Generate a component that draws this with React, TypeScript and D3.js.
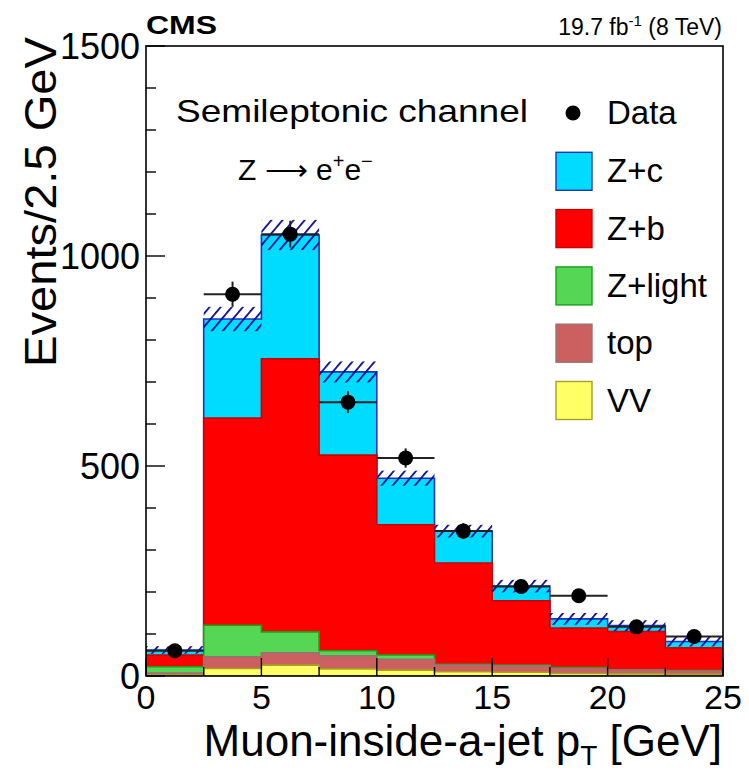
import React from "react";
import * as d3 from "d3";

// ---- data ----
const binEdges = [0, 2.5, 5, 7.5, 10, 12.5, 15, 17.5, 20, 22.5, 25];
const vv = [2, 18, 26, 17, 14, 10, 9, 6, 5, 4];
const top = [5, 28, 29, 31, 26, 16, 15, 12, 9, 8];
const zlight = [15, 75, 50, 12, 10, 2, 2, 2, 1, 1];
const zb = [28, 493, 650, 466, 310, 241, 153, 94, 91, 54];
const zc = [12, 236, 295, 198, 111, 76, 35, 22, 14, 15];
const mcUnc = [9, 29, 36, 25, 18, 15, 15, 14, 13, 12];
const dataVals = [60, 909, 1052, 652, 519, 345, 213, 191, 117, 94];
const dataErr = [8, 30, 32, 26, 23, 19, 15, 14, 11, 10];
const yTicks = [0, 500, 1000, 1500];
const xTicks = [0, 5, 10, 15, 20, 25];

const layerKeys = ["vv", "top", "zlight", "zb", "zc"];
const layerNames: Record<string, string> = {
  zc: "Z+c",
  zb: "Z+b",
  zlight: "Z+light",
  top: "top",
  vv: "VV",
};
const fills: Record<string, string> = {
  zc: "#00dcff",
  zb: "#ff0000",
  zlight: "#55d655",
  top: "#cc6060",
  vv: "#ffff66",
};
const strokes: Record<string, string> = {
  zc: "#2233bb",
  zb: "#cc0000",
  zlight: "#18a018",
  top: "#9a7070",
  vv: "#a8a020",
};

const FONT = "'Liberation Sans', Arial, Helvetica, sans-serif";

export default function App() {
  const W = 749;
  const H = 773;
  const x = d3.scaleLinear().domain([0, 25]).range([146, 723]);
  const y = d3.scaleLinear().domain([0, 1500]).range([676, 46]);

  const table = binEdges.slice(0, -1).map((e, i) => ({
    lo: e,
    hi: binEdges[i + 1],
    vv: vv[i],
    top: top[i],
    zlight: zlight[i],
    zb: zb[i],
    zc: zc[i],
  }));
  const stacked = d3.stack<any>().keys(layerKeys)(table);

  const line = d3.line<[number, number]>();
  const stepPath = (cum: number[]) => {
    const pts: [number, number][] = [[x(binEdges[0]), y(0)]];
    cum.forEach((c, i) => {
      pts.push([x(binEdges[i]), y(c)]);
      pts.push([x(binEdges[i + 1]), y(c)]);
    });
    pts.push([x(binEdges[binEdges.length - 1]), y(0)]);
    return line(pts) + "Z";
  };

  const layersTopDown = [...stacked].reverse();
  const totals = stacked[stacked.length - 1].map((d) => d[1]);

  const yMinor = d3.range(0, 1501, 100);
  const xMinor = d3.range(0, 25.01, 2.5);

  const legendY0 = 113;
  const legendStep = 57.3;
  const legendOrder = ["zc", "zb", "zlight", "top", "vv"];

  return (
    <svg
      width={W}
      height={H}
      style={{ position: "absolute", left: 0, top: 0, background: "#fff" }}
      fontFamily={FONT}
    >
      <defs>
        <pattern
          id="hatch"
          patternUnits="userSpaceOnUse"
          width={8.5}
          height={8.5}
          patternTransform="rotate(40)"
        >
          <line x1={0} y1={0} x2={0} y2={8.5} stroke="#0c0c96" strokeWidth={3.6} />
        </pattern>
        <clipPath id="plotclip">
          <rect x={146} y={46} width={577} height={630} />
        </clipPath>
      </defs>
      <rect x={0} y={0} width={W} height={H} fill="#fff" />

      <g clipPath="url(#plotclip)">
        {layersTopDown.map((layer) => (
          <path
            key={layer.key}
            d={stepPath(layer.map((d) => d[1]))}
            fill={fills[layer.key]}
            stroke={strokes[layer.key]}
            strokeWidth={1.6}
          />
        ))}
        {totals.map((t, i) => (
          <rect
            key={"h" + i}
            x={x(binEdges[i])}
            y={y(t + mcUnc[i])}
            width={x(binEdges[i + 1]) - x(binEdges[i])}
            height={y(t - mcUnc[i]) - y(t + mcUnc[i])}
            fill="url(#hatch)"
          />
        ))}
        {dataVals.map((v, i) => {
          const cx = x((binEdges[i] + binEdges[i + 1]) / 2);
          return (
            <g key={"d" + i}>
              <line
                x1={x(binEdges[i])}
                x2={x(binEdges[i + 1])}
                y1={y(v)}
                y2={y(v)}
                stroke="#222"
                strokeWidth={2}
              />
              <line
                x1={cx}
                x2={cx}
                y1={y(v - dataErr[i])}
                y2={y(v + dataErr[i])}
                stroke="#222"
                strokeWidth={2}
              />
              <circle cx={cx} cy={y(v)} r={7.5} fill="#000" />
            </g>
          );
        })}
      </g>

      <rect x={146} y={46} width={577} height={630} fill="none" stroke="#000" strokeWidth={1.6} />

      {yMinor.map((v) => (
        <line
          key={"yt" + v}
          x1={146}
          x2={146 + (v % 500 === 0 ? 19 : 10)}
          y1={y(v)}
          y2={y(v)}
          stroke="#000"
          strokeWidth={1.4}
        />
      ))}
      {xMinor.map((v) => (
        <line
          key={"xt" + v}
          x1={x(v)}
          x2={x(v)}
          y1={676}
          y2={676 - (v % 5 === 0 ? 18 : 9)}
          stroke="#000"
          strokeWidth={1.4}
        />
      ))}

      {yTicks.map((v) => (
        <text key={"yl" + v} x={140} y={y(v) + 13} fontSize={36} textAnchor="end">
          {v}
        </text>
      ))}
      {xTicks.map((v) => (
        <text key={"xl" + v} x={x(v)} y={709} fontSize={34} textAnchor="middle">
          {v}
        </text>
      ))}

      <text
        transform="translate(56,37) rotate(-90)"
        fontSize={44}
        textAnchor="end"
        textLength={330}
        lengthAdjust="spacingAndGlyphs"
      >
        Events/2.5 GeV
      </text>
      <text x={722} y={756} fontSize={44} textAnchor="end">
        Muon-inside-a-jet p
        <tspan fontSize={28} dy={9}>T</tspan>
        <tspan dy={-9}> [GeV]</tspan>
      </text>

      <text x={146} y={34} fontSize={25} fontWeight="bold" textLength={71} lengthAdjust="spacingAndGlyphs">
        CMS
      </text>
      <text x={722} y={35} fontSize={23} textAnchor="end">
        19.7 fb
        <tspan fontSize={15} dy={-9}>-1</tspan>
        <tspan dy={9}> (8 TeV)</tspan>
      </text>

      <text x={176} y={122} fontSize={32} textLength={352} lengthAdjust="spacingAndGlyphs">
        Semileptonic channel
      </text>
      <text x={238} y={180} fontSize={30}>
        Z ⟶ e
        <tspan fontSize={20} dy={-12}>+</tspan>
        <tspan dy={12}>e</tspan>
        <tspan fontSize={20} dy={-12}>−</tspan>
      </text>

      <circle cx={573} cy={legendY0} r={7.5} fill="#000" />
      <text x={607} y={legendY0 + 11} fontSize={33}>
        Data
      </text>
      {legendOrder.map((k, i) => {
        const cy = legendY0 + legendStep * (i + 1) + 1;
        return (
          <g key={"lg" + k}>
            <rect
              x={556}
              y={cy - 19}
              width={36}
              height={38}
              fill={fills[k]}
              stroke={strokes[k]}
              strokeWidth={1.4}
            />
            <text x={607} y={cy + 11} fontSize={33}>
              {layerNames[k]}
            </text>
          </g>
        );
      })}
    </svg>
  );
}
